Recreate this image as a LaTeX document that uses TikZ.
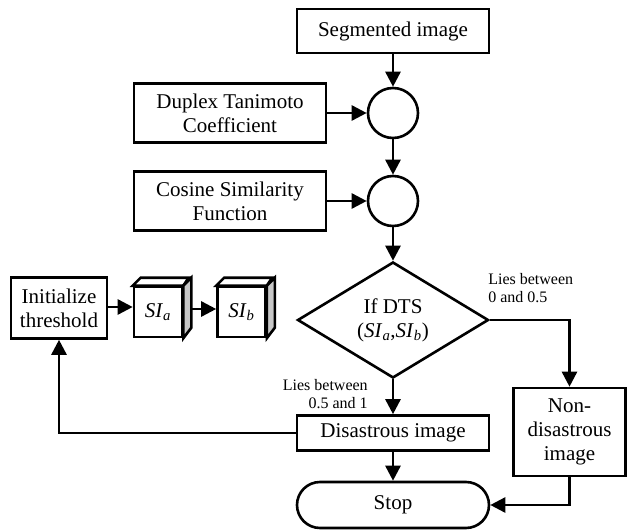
\documentclass[tikz,border=0pt]{standalone}
\usepackage{fontspec}
\setmainfont{Liberation Serif}
\usetikzlibrary{shapes.geometric,shapes.misc,arrows.meta}
\newcommand{\SIx}[1]{\textit{SI}\textsubscript{\textit{#1}}}
\begin{document}
\begin{tikzpicture}[x=1pt,y=-1pt,line width=2.6pt,
  >={Triangle[length=15pt,width=15pt]},
  mainfont/.style={font=\fontsize{21}{24}\selectfont},
  box/.style={draw,rectangle,minimum width=192pt,inner sep=0pt,align=center,mainfont},
  junction/.style={draw,circle,minimum size=50pt,inner sep=0pt},
  cubeface/.style={draw,rectangle,minimum width=48pt,minimum height=50pt,inner sep=0pt,mainfont},
  lbl/.style={font=\fontsize{16}{18}\selectfont,inner sep=0pt}]
\useasboundingbox (0,0) rectangle (627,530);
% main column
\node[box,minimum height=44pt] (seg) at (393,31) {Segmented image};
\node[junction] (c1) at (393,113) {};
\node[junction] (c2) at (393,201) {};
\node[box,minimum height=59pt] (dtc) at (230,113) {Duplex Tanimoto\\Coefficient};
\node[box,minimum height=59pt] (cos) at (230,201) {Cosine Similarity\\Function};
\node[draw,diamond,aspect=1.65,minimum width=191pt,minimum height=116pt,inner sep=0pt,align=center,mainfont] (dia) at (393,320) {If DTS\\(\SIx{a},\SIx{b})};
\node[box,minimum height=35pt] (dis) at (393,433) {Disastrous image};
\node[box,minimum width=112pt,minimum height=88pt] (non) at (569.5,432) {Non-\\disastrous\\image};
\node[draw,rounded rectangle,minimum width=192pt,minimum height=46pt,inner sep=0pt,mainfont] (stop) at (393,505) {Stop};
% left part
\node[box,minimum width=96pt,minimum height=61pt] (init) at (59,308) {Initialize\\threshold};
\node[cubeface] (sia) at (158,312) {\SIx{a}};
\node[cubeface] (sib) at (241.5,312) {\SIx{b}};
\foreach \c in {sia,sib}{
  \draw[fill=white,line join=miter] (\c.north west) -- ++(8,-8) -- ++(48,0) -- (\c.north east) -- cycle;
  \draw[fill=black!22,line join=miter] (\c.north east) -- ++(8,-8) -- ++(0,50) -- (\c.south east) -- cycle;
}
\coordinate (siaside) at (190,309);
% labels
\node[lbl,anchor=west,align=left] (l1) at (487,288) {Lies between\\0 and 0.5};
\node[lbl,anchor=east,align=right] (l2) at (369,394) {Lies between\\0.5 and 1};
% connectors
\draw[->] (seg.south) -- (c1.north);
\draw[->] (dtc.east) -- (c1.west);
\draw[->] (c1.south) -- (c2.north);
\draw[->] (cos.east) -- (c2.west);
\draw[->] (c2.south) -- (dia.north);
\draw[->] (dia.east) -| (non.north);
\draw[->] (dia.south) -- (dis.north);
\draw[->] (dis.south) -- (stop.north);
\draw[->] (non.south) |- (stop.east);
\draw[->] (dis.west) -| (init.south);
\draw[->] ([yshift=1pt]init.east) -- ([yshift=1pt]init.east -| sia.west);
\draw[->] (siaside) -- (siaside -| sib.west);
\end{tikzpicture}
\end{document}
